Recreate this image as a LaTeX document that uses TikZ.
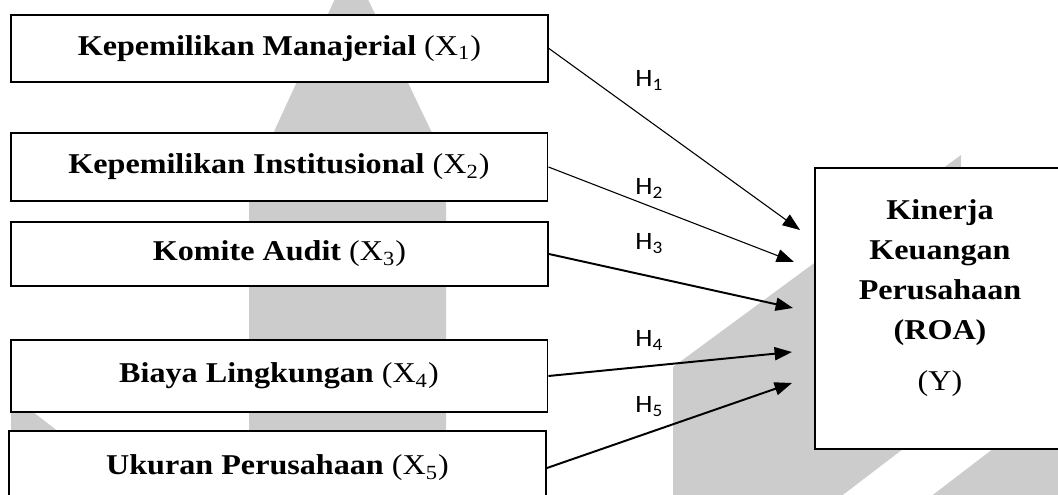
\documentclass[tikz,border=0pt]{standalone}
\usepackage{fontspec}
\setmainfont{Liberation Serif}[FakeStretch=1.12]
\newfontfamily\hipfont{Carlito}[FakeStretch=1.1]
\usetikzlibrary{arrows.meta}
\tikzset{
	varbox/.style={draw, line width=0.9pt, fill=white, minimum width=247pt, inner sep=0pt, font=\fontsize{13.2}{15}\selectfont},
	hyparrow/.style={-{Triangle[length=8pt, width=6pt]}},
	hyplabel/.style={anchor=base west, inner sep=0pt, font=\hipfont\fontsize{11.5}{13}\selectfont},
	watermark/.style={fill=black!20, draw=none}
}

\begin{document}
\begin{tikzpicture}[x=0.46pt, y=-0.46pt]
		\useasboundingbox (0,0) rectangle (1058,495);

		% watermark in the back
		\fill [watermark] (351,-36) -- (446,162) -- (446,520) -- (249,520) -- (249,186) -- cycle;
		\fill [watermark] (673,367) -- (961,155) -- (961,405) -- (903,449) -- (810,520) -- (673,520) -- cycle;
		\fill [watermark] (1070,390) -- (900,520) -- (1070,520) -- cycle;
		\fill [watermark] (11,395) -- (173,520) -- (11,520) -- cycle;

		\node [varbox, minimum height=30.8pt] (x1) at (279.5,48.5) {\textbf{Kepemilikan Manajerial} (X\textsubscript{1})};
		\node [varbox, minimum height=31.3pt] (x2) at (279,167) {\textbf{Kepemilikan Institusional} (X\textsubscript{2})};
		\node [varbox, minimum height=29.4pt] (x3) at (279.5,254) {\textbf{Komite Audit} (X\textsubscript{3})};
		\node [varbox, minimum height=33.1pt] (x4) at (279,376) {\textbf{Biaya Lingkungan} (X\textsubscript{4})};
		\node [varbox, minimum height=34pt] (x5) at (277.5,468) {\textbf{Ukuran Perusahaan} (X\textsubscript{5})};

		\node [draw, line width=1.2pt, fill=white, minimum width=117.3pt, minimum height=129.3pt] (roa) at (942.5,308.5) {};
		\node [align=center, font=\fontsize{13.2}{18.4}\selectfont\bfseries] (roatxt) at (940,298) {Kinerja\\Keuangan\\Perusahaan\\(ROA)\\[5pt]\mdseries(Y)};

		\coordinate (t1) at (800,230);
		\coordinate (t2) at (794,262);
		\coordinate (t3) at (793,308);
		\coordinate (t4) at (792,352);
		\coordinate (t5) at (792,383);

		\draw [hyparrow, line width=0.5pt] (x1.east) -- (t1);
		\draw [hyparrow, line width=0.5pt] (x2.east) -- (t2);
		\draw [hyparrow, line width=0.9pt] (x3.east) -- (t3);
		\draw [hyparrow, line width=0.9pt] (x4.east) -- (t4);
		\draw [hyparrow, line width=0.9pt] (x5.east) -- (t5);

		\node [hyplabel] (h1) at (635,87) {H\textsubscript{1}};
		\node [hyplabel] (h2) at (635,195) {H\textsubscript{2}};
		\node [hyplabel] (h3) at (635,250) {H\textsubscript{3}};
		\node [hyplabel] (h4) at (635,347) {H\textsubscript{4}};
		\node [hyplabel] (h5) at (635,413) {H\textsubscript{5}};

\end{tikzpicture}
\end{document}
